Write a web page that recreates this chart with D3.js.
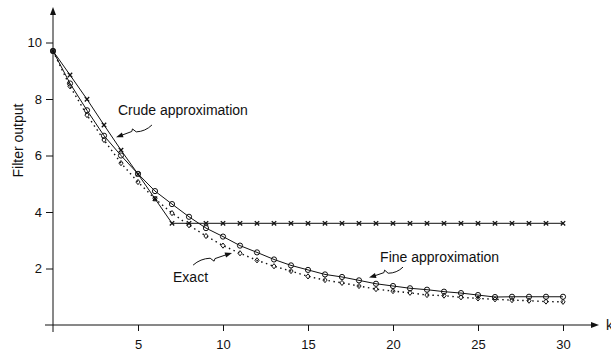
<!DOCTYPE html>
<html>
<head>
<meta charset="utf-8">
<script src="https://cdn.jsdelivr.net/npm/d3@7"></script>
<style>
  html, body { margin: 0; padding: 0; background: #fff; }
  svg { display: block; }
  text { font-family: "Liberation Sans", Arial, Helvetica, sans-serif; fill: #111; }
</style>
</head>
<body>
<svg id="chart" width="611" height="354"></svg>
<script>
// ---- data ----
const k = d3.range(0, 31);
const exact = [9.70, 8.45, 7.43, 6.55, 5.73, 5.06, 4.47, 3.96, 3.53, 3.15, 2.81,
               2.54, 2.29, 2.08, 1.91, 1.72, 1.59, 1.49, 1.38, 1.27, 1.20,
               1.14, 1.06, 1.04, 0.98, 0.94, 0.91, 0.88, 0.86, 0.83, 0.82];
const fine = [9.70, 8.55, 7.60, 6.70, 6.00, 5.35, 4.74, 4.28, 3.83, 3.43, 3.13,
              2.81, 2.57, 2.32, 2.11, 1.95, 1.79, 1.70, 1.58, 1.46, 1.38,
              1.30, 1.25, 1.18, 1.13, 1.06, 0.99, 1.00, 1.00, 1.00, 1.00];
const crude = [9.70, 8.85, 7.99, 7.08, 6.19, 5.34, 4.47, 3.60, 3.60, 3.60, 3.60,
               3.60, 3.60, 3.60, 3.60, 3.60, 3.60, 3.60, 3.60, 3.60, 3.60,
               3.60, 3.60, 3.60, 3.60, 3.60, 3.60, 3.60, 3.60, 3.60, 3.60];
const xTicks = [5, 10, 15, 20, 25, 30];
const yTicks = [2, 4, 6, 8, 10];
const annotations = [
  { text: "Crude approximation", tx: 3.82, ty: 7.43, tail: [5.82, 7.08], tip: [3.71, 6.65] },
  { text: "Exact",               tx: 7.06, ty: 1.52, tail: [8.24, 2.12], tip: [10.53, 2.55] },
  { text: "Fine approximation",  tx: 19.24, ty: 2.23, tail: [20.59, 2.05], tip: [18.59, 1.68] }
];

// ---- layout ----
const svg = d3.select("#chart");
const x = d3.scaleLinear().domain([0, 30]).range([53, 563]);
const y = d3.scaleLinear().domain([0, 10]).range([325, 42.5]);
const ink = "#111";

// axes lines with arrows
svg.append("line").attr("x1", 45).attr("x2", 593).attr("y1", y(0)).attr("y2", y(0))
  .attr("stroke", ink).attr("stroke-width", 1);
svg.append("path").attr("d", `M599,${y(0)} L591,${y(0)-3} L591,${y(0)+3} Z`).attr("fill", ink);
svg.append("line").attr("x1", x(0)).attr("x2", x(0)).attr("y1", 332).attr("y2", 13)
  .attr("stroke", ink).attr("stroke-width", 1);
svg.append("path").attr("d", `M${x(0)},7 L${x(0)-3},15 L${x(0)+3},15 Z`).attr("fill", ink);

const xAxis = svg.append("g").attr("transform", `translate(0,${y(0)})`)
  .call(d3.axisBottom(x).tickValues(xTicks).tickSize(6).tickPadding(8.5).tickFormat(d3.format("d")));
const yAxis = svg.append("g").attr("transform", `translate(${x(0)},0)`)
  .call(d3.axisLeft(y).tickValues(yTicks).tickSize(7).tickPadding(4).tickFormat(d3.format("d")));
[xAxis, yAxis].forEach(g => {
  g.select(".domain").remove();
  g.selectAll(".tick line").attr("stroke", ink);
  g.selectAll(".tick text").attr("font-size", 13).attr("fill", ink)
    .attr("font-family", '"Liberation Sans", Arial, sans-serif');
});

svg.append("text").attr("x", 606).attr("y", y(0) + 5).attr("font-size", 14).text("k");
svg.append("text").attr("transform", "translate(23,140.5) rotate(-90)")
  .attr("text-anchor", "middle").attr("font-size", 14).text("Filter output");

// ---- series ----
const line = arr => d3.line().x((d, i) => x(k[i])).y(d => y(d))(arr);

svg.append("path").attr("d", line(exact)).attr("fill", "none").attr("stroke", ink)
  .attr("stroke-width", 1.4).attr("stroke-dasharray", "1.5,3.5");
svg.append("path").attr("d", line(fine)).attr("fill", "none").attr("stroke", ink).attr("stroke-width", 1);
svg.append("path").attr("d", line(crude)).attr("fill", "none").attr("stroke", ink).attr("stroke-width", 1);

// markers
svg.append("g").selectAll("path").data(exact).join("path")
  .attr("transform", (d, i) => `translate(${x(k[i])},${y(d)})`)
  .attr("d", "M0,-2.6 L2.1,0 L0,2.6 L-2.1,0 Z")
  .attr("fill", "none").attr("stroke", ink).attr("stroke-width", 1);
svg.append("g").selectAll("circle").data(fine).join("circle")
  .attr("cx", (d, i) => x(k[i])).attr("cy", d => y(d)).attr("r", 2.6)
  .attr("fill", "none").attr("stroke", ink).attr("stroke-width", 1);
svg.append("g").selectAll("path").data(crude).join("path")
  .attr("transform", (d, i) => `translate(${x(k[i])},${y(d)})`)
  .attr("d", "M-2.2,-2.2 L2.2,2.2 M-2.2,2.2 L2.2,-2.2")
  .attr("fill", "none").attr("stroke", ink).attr("stroke-width", 1.3);

// ---- annotations ----
function squiggle(T, P) {
  const dx = P[0] - T[0], dy = P[1] - T[1];
  const L = Math.hypot(dx, dy), ux = dx / L, uy = dy / L;
  const nx = -uy, ny = ux;
  const pt = (t, o) => [T[0] + dx * t + nx * o, T[1] + dy * t + ny * o];
  const c1 = pt(0.22, -4), b = pt(0.45, -1.5), c = pt(0.52, 2.5), e = pt(0.56, 0.3);
  const end = [P[0] - ux * 6, P[1] - uy * 6];
  const path = `M${T[0]},${T[1]} Q${c1[0]},${c1[1]} ${b[0]},${b[1]} L${c[0]},${c[1]} L${e[0]},${e[1]} L${end[0]},${end[1]}`;
  const hb = [P[0] - ux * 7, P[1] - uy * 7];
  const head = `M${P[0]},${P[1]} L${hb[0] + nx * 2.6},${hb[1] + ny * 2.6} L${hb[0] - nx * 2.6},${hb[1] - ny * 2.6} Z`;
  return { path, head };
}
const ann = svg.append("g");
annotations.forEach(a => {
  ann.append("text").attr("x", x(a.tx)).attr("y", y(a.ty)).attr("font-size", 14).text(a.text);
  const s = squiggle([x(a.tail[0]), y(a.tail[1])], [x(a.tip[0]), y(a.tip[1])]);
  ann.append("path").attr("d", s.path).attr("fill", "none").attr("stroke", ink).attr("stroke-width", 1);
  ann.append("path").attr("d", s.head).attr("fill", ink);
});
</script>
</body>
</html>
